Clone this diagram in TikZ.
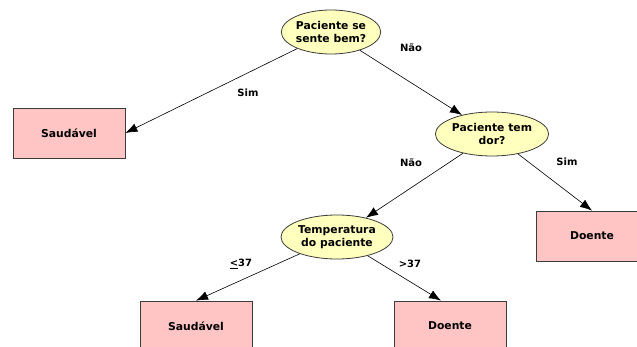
\documentclass[tikz,border=0pt]{standalone}
\usepackage{fontspec}
\setmainfont{DejaVu Sans}
\usetikzlibrary{arrows.meta,shapes.geometric}
\definecolor{qfill}{RGB}{255,255,190}
\definecolor{leaffill}{RGB}{255,196,196}
\definecolor{edgegray}{RGB}{60,60,60}
\tikzset{
  question/.style={ellipse, draw=edgegray, fill=qfill, line width=0.8pt,
    minimum width=#1, minimum height=44pt, inner sep=0pt, align=center,
    font=\fontsize{10.8}{13.5}\selectfont\bfseries},
  leaf/.style={rectangle, draw=edgegray, fill=leaffill, line width=0.8pt,
    minimum width=112pt, minimum height=50pt, inner sep=0pt,
    font=\fontsize{10.8}{13}\selectfont\bfseries},
  branch/.style={draw=black, line width=0.6pt, -{Latex[length=12pt,width=9pt]}},
  answer/.style={font=\fontsize{10}{12}\selectfont\bfseries, inner sep=0pt}
}
\begin{document}
\begin{tikzpicture}[x=1pt,y=-1pt]
  \useasboundingbox (0,0) rectangle (637,347);
  \clip (0,0) rectangle (637,347);

  % decision nodes
  \node[question=98pt]  (q1) at (331,32)  {Paciente se\\sente bem?};
  \node[question=112pt] (q2) at (492,134) {Paciente tem\\dor?};
  \node[question=112pt] (q3) at (337,237) {Temperatura\\do paciente};

  % outcomes
  \node[leaf] (s1) at (69,133)  {Saudável};
  \node[leaf] (d1) at (592,236) {Doente};
  \node[leaf] (s2) at (196,326) {Saudável};
  \node[leaf] (d2) at (450,326) {Doente};

  % branches
  \draw[branch] (q1) -- (s1.east);
  \draw[branch] (q1) -- (q2);
  \draw[branch] (q2) -- (q3);
  \draw[branch] (q2) -- (d1.north);
  \draw[branch] (q3) -- (s2.north);
  \draw[branch] (q3) -- ([xshift=-9pt]d2.north);

  % branch labels
  \node[answer] (l1) at (248,93)  {Sim};
  \node[answer] (l2) at (411,48)  {Não};
  \node[answer] (l3) at (411,163) {Não};
  \node[answer] (l4) at (567,162) {Sim};
  \node[answer] (l5) at (241,264) {\underline{<}37};
  \node[answer] (l6) at (410,264) {>37};
\end{tikzpicture}
\end{document}
